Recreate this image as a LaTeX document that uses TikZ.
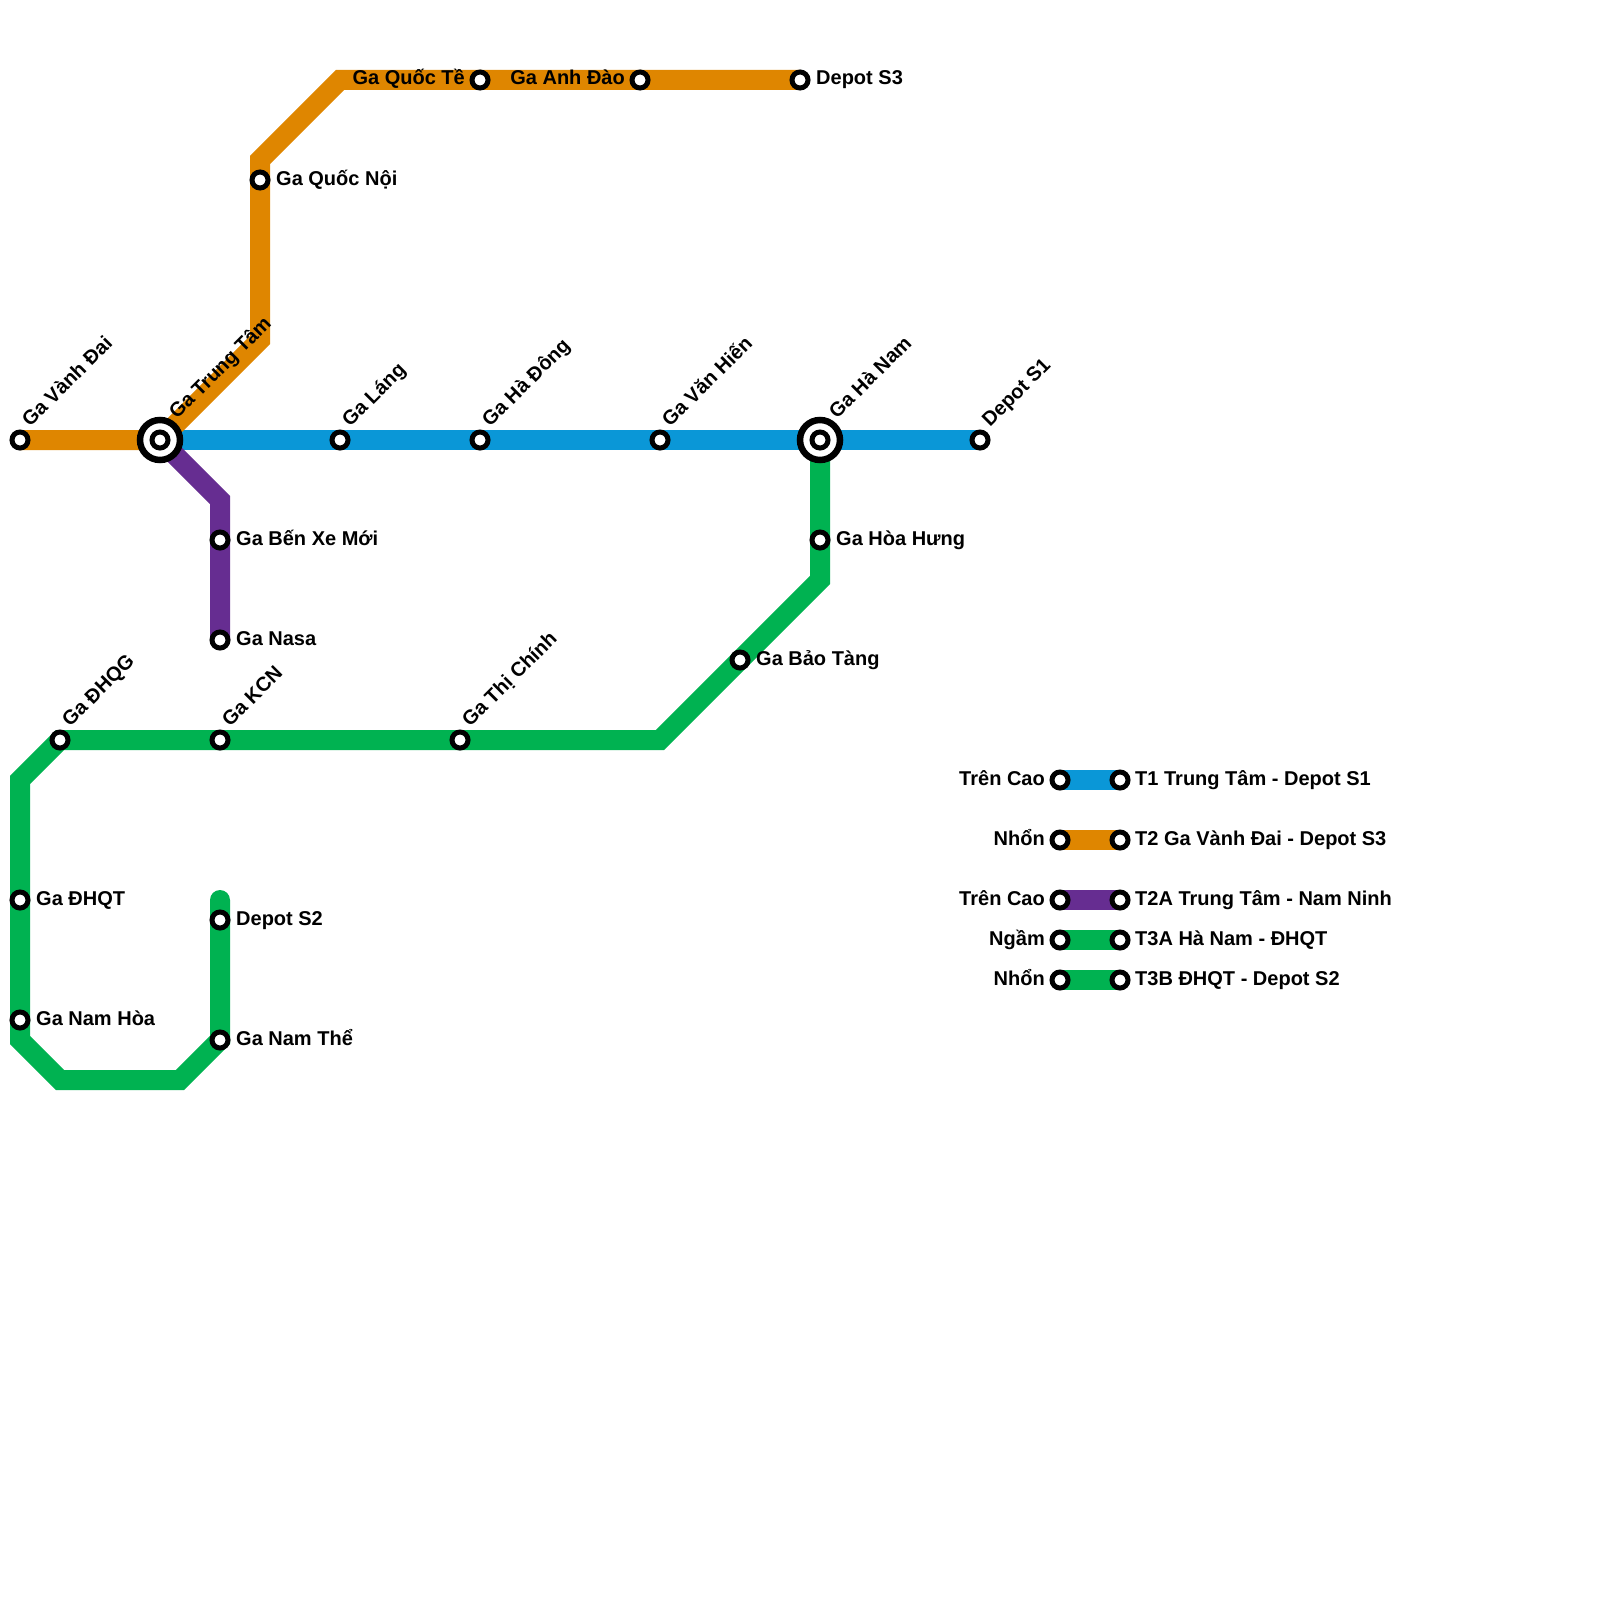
\documentclass[tikz,border=0pt]{standalone}
\usepackage{fontspec}
\setmainfont{Liberation Sans}
\definecolor{tblue}{HTML}{0A97D7}
\definecolor{torange}{HTML}{DF8600}
\definecolor{tpurple}{HTML}{662D91}
\definecolor{tgreen}{HTML}{00B251}
\tikzset{
  stn/.style={circle, draw=black, fill=white, line width=5pt, minimum size=16pt, inner sep=0pt},
  xchg/.style={circle, draw=black, fill=white, line width=6.5pt, minimum size=40pt, inner sep=0pt},
  route/.style={line width=20pt, line join=miter},
  lbl/.style={font=\bfseries\fontsize{20}{24}\selectfont, inner sep=0pt, text=black},
  rlbl/.style={lbl, anchor=base west},
  llbl/.style={lbl, anchor=base east},
  dlbl/.style={lbl, anchor=base west, rotate=45},
}
\begin{document}
\begin{tikzpicture}[x=1pt,y=-1pt]
\useasboundingbox (0,0) rectangle (1600,1600);
% station positions
\coordinate (vd) at (20,440);
\coordinate (tt) at (160,440);
\coordinate (lang) at (340,440);
\coordinate (hd) at (480,440);
\coordinate (vh) at (660,440);
\coordinate (hn) at (820,440);
\coordinate (ds1) at (980,440);
\coordinate (qn) at (260,180);
\coordinate (qt) at (480,80);
\coordinate (ad) at (640,80);
\coordinate (ds3) at (800,80);
\coordinate (bxm) at (220,540);
\coordinate (nasa) at (220,640);
\coordinate (hh) at (820,540);
\coordinate (bt) at (740,660);
\coordinate (tc) at (460,740);
\coordinate (kcn) at (220,740);
\coordinate (dhqg) at (60,740);
\coordinate (dhqt) at (20,900);
\coordinate (nh) at (20,1020);
\coordinate (nt) at (220,1040);
\coordinate (ds2) at (220,920);
% bends
\coordinate (o1) at (260,340);
\coordinate (o2) at (260,160);
\coordinate (o3) at (340,80);
\coordinate (p1) at (220,500);
\coordinate (g1) at (820,580);
\coordinate (g2) at (660,740);
\coordinate (g3) at (20,780);
\coordinate (g4) at (20,1040);
\coordinate (g5) at (60,1080);
\coordinate (g6) at (180,1080);
\coordinate (g7) at (220,900);
% legend positions
\foreach \i/\y in {1/780,2/840,3/900,4/940,5/980}{
  \coordinate (la\i) at (1060,\y);
  \coordinate (lb\i) at (1120,\y);
}
% routes
\draw[route, tblue] (tt) -- (ds1);
\draw[route, torange] (vd) -- (tt) -- (o1) -- (o2) -- (o3) -- (ds3);
\draw[route, tpurple] (tt) -- (p1) -- (nasa);
\draw[route, tgreen, line cap=round] (hn) -- (g1) -- (g2) -- (dhqg) -- (g3) -- (g4) -- (g5) -- (g6) -- (nt) -- (g7);
\draw[route, tblue] (la1) -- (lb1);
\draw[route, torange] (la2) -- (lb2);
\draw[route, tpurple] (la3) -- (lb3);
\draw[route, tgreen] (la4) -- (lb4);
\draw[route, tgreen] (la5) -- (lb5);
% stations
\foreach \s in {vd,lang,hd,vh,ds1,qn,qt,ad,ds3,bxm,nasa,hh,bt,tc,kcn,dhqg,dhqt,nh,nt,ds2,la1,lb1,la2,lb2,la3,lb3,la4,lb4,la5,lb5}{
  \node[stn] (m-\s) at (\s) {};
}
\node[xchg] (x-tt) at (tt) {};
\node[stn] (m-tt) at (tt) {};
\node[xchg] (x-hn) at (hn) {};
\node[stn] (m-hn) at (hn) {};
% diagonal labels
\node[dlbl] (t-vd) at ([shift={(10,-12)}]vd) {Ga Vành Đai};
\node[dlbl] (t-tt) at ([shift={(17,-20)}]tt) {Ga Trung Tâm};
\node[dlbl] (t-lang) at ([shift={(10,-12)}]lang) {Ga Láng};
\node[dlbl] (t-hd) at ([shift={(10,-12)}]hd) {Ga Hà Đông};
\node[dlbl] (t-vh) at ([shift={(10,-12)}]vh) {Ga Văn Hiến};
\node[dlbl] (t-hn) at ([shift={(17,-20)}]hn) {Ga Hà Nam};
\node[dlbl] (t-ds1) at ([shift={(10,-12)}]ds1) {Depot S1};
\node[dlbl] (t-dhqg) at ([shift={(10,-12)}]dhqg) {Ga ĐHQG};
\node[dlbl] (t-kcn) at ([shift={(10,-12)}]kcn) {Ga KCN};
\node[dlbl] (t-tc) at ([shift={(10,-12)}]tc) {Ga Thị Chính};
% right labels
\node[rlbl] (t-qn) at ([shift={(16,5)}]qn) {Ga Quốc Nội};
\node[rlbl] (t-ds3) at ([shift={(16,5)}]ds3) {Depot S3};
\node[rlbl] (t-bxm) at ([shift={(16,5)}]bxm) {Ga Bến Xe Mới};
\node[rlbl] (t-nasa) at ([shift={(16,5)}]nasa) {Ga Nasa};
\node[rlbl] (t-hh) at ([shift={(16,5)}]hh) {Ga Hòa Hưng};
\node[rlbl] (t-bt) at ([shift={(16,5)}]bt) {Ga Bảo Tàng};
\node[rlbl] (t-dhqt) at ([shift={(16,5)}]dhqt) {Ga ĐHQT};
\node[rlbl] (t-nh) at ([shift={(16,5)}]nh) {Ga Nam Hòa};
\node[rlbl] (t-ds2) at ([shift={(16,5)}]ds2) {Depot S2};
\node[rlbl] (t-nt) at ([shift={(16,5)}]nt) {Ga Nam Thể};
% left labels
\node[llbl] (t-qt) at ([shift={(-15,5)}]qt) {Ga Quốc Tề};
\node[llbl] (t-ad) at ([shift={(-15,5)}]ad) {Ga Anh Đào};
% legend labels
\node[llbl] (l-a1) at ([shift={(-15,5)}]la1) {Trên Cao};
\node[llbl] (l-a2) at ([shift={(-15,5)}]la2) {Nhổn};
\node[llbl] (l-a3) at ([shift={(-15,5)}]la3) {Trên Cao};
\node[llbl] (l-a4) at ([shift={(-15,5)}]la4) {Ngầm};
\node[llbl] (l-a5) at ([shift={(-15,5)}]la5) {Nhổn};
\node[rlbl] (l-b1) at ([shift={(15,5)}]lb1) {T1 Trung Tâm - Depot S1};
\node[rlbl] (l-b2) at ([shift={(15,5)}]lb2) {T2 Ga Vành Đai - Depot S3};
\node[rlbl] (l-b3) at ([shift={(15,5)}]lb3) {T2A Trung Tâm - Nam Ninh};
\node[rlbl] (l-b4) at ([shift={(15,5)}]lb4) {T3A Hà Nam - ĐHQT};
\node[rlbl] (l-b5) at ([shift={(15,5)}]lb5) {T3B ĐHQT - Depot S2};
\end{tikzpicture}
\end{document}
